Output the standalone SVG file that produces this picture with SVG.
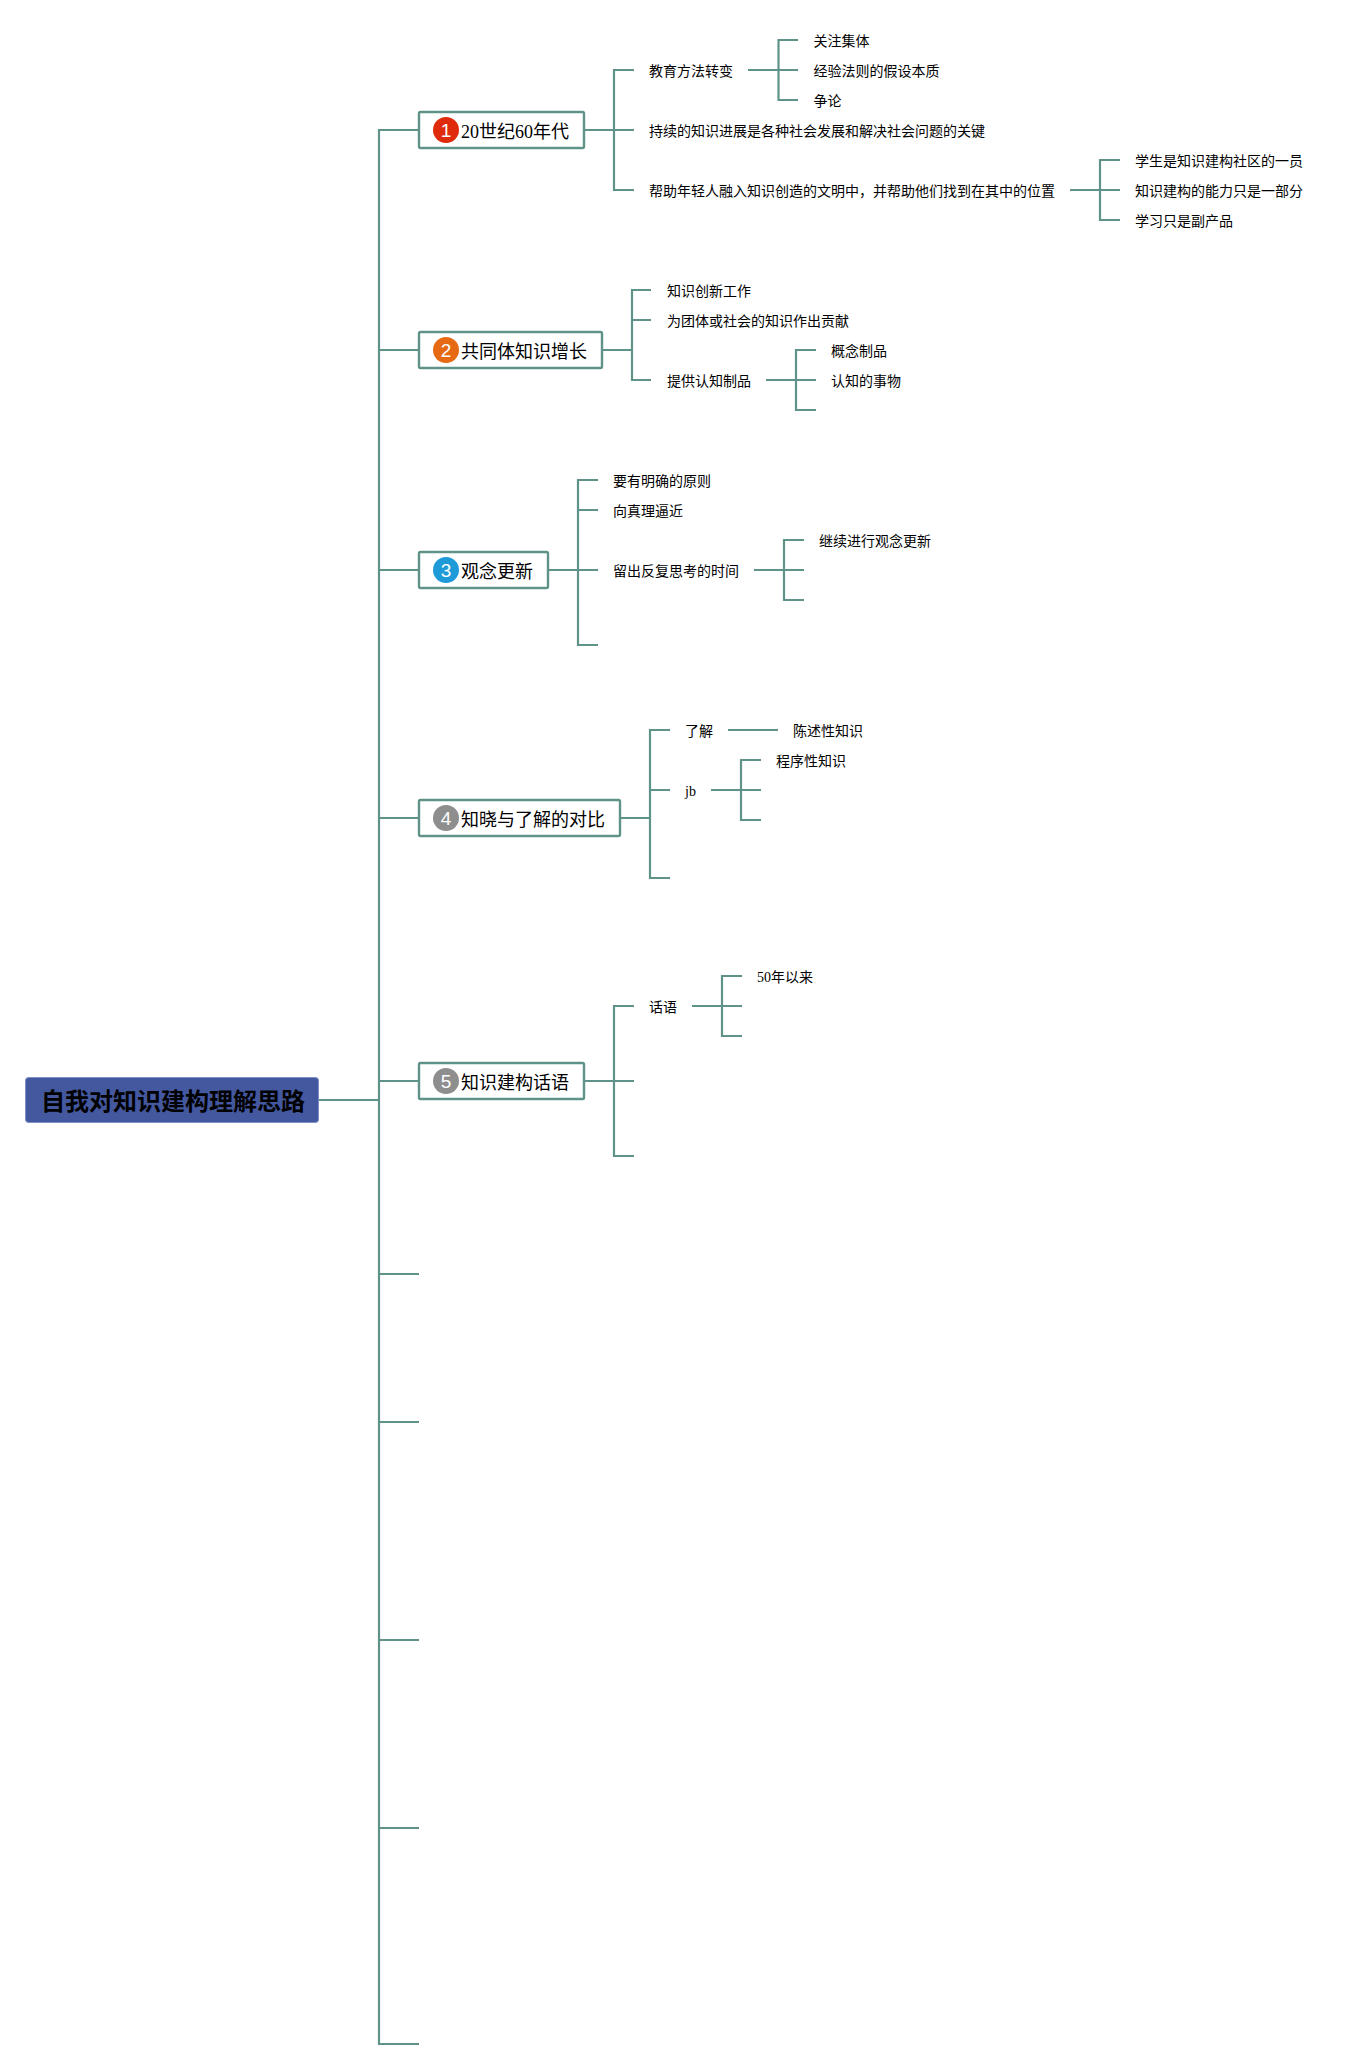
<svg xmlns="http://www.w3.org/2000/svg" width="1363" height="2069" viewBox="0 0 1363 2069">
<style>
.c{fill:none;stroke:#5f938a;stroke-width:2.2}
.b{fill:#fff;stroke:#5f938a;stroke-width:2.4}
text{font-family:"Liberation Serif","Noto Sans CJK SC",sans-serif;fill:#000}
.l{font-size:14px}
.t{font-size:18px}
.n{font-family:"Liberation Sans",sans-serif;font-size:19px;fill:#fff;text-anchor:middle}
.r{font-family:"Liberation Sans","Noto Sans CJK SC",sans-serif;font-size:24px;font-weight:700;fill:#000}
</style>
<rect width="1363" height="2069" fill="#fff"/>
<g id="connectors">
<path class="c" d="M319 1100H379M380 2044H379V130H419M379 350H419M379 570H419M379 818H419M379 1081H419M379 1274H419M379 1422H419M379 1640H419M379 1828H419M379 2044H419"/>
<path class="c" d="M584 130H614M634 70H614V190H634M614 130H634"/>
<path class="c" d="M748 70H778.500M798 40H778.500V100H798M778.500 70H798"/>
<path class="c" d="M1070 190H1100M1120 160H1100V220H1120M1100 190H1120"/>
<path class="c" d="M602 350H632M651 290H632V380H651M632 320H651"/>
<path class="c" d="M766 380H796M816 350H796V410H816M796 380H816"/>
<path class="c" d="M548 570H578M598 480H578V645H598M578 510H598M578 570H598"/>
<path class="c" d="M754 570H784M804 540H784V600H804M784 570H804"/>
<path class="c" d="M620 818H650M670 730H650V878H670M650 790H670"/>
<path class="c" d="M728 730H778"/>
<path class="c" d="M711 790H741M761 760H741V820H761M741 790H761"/>
<path class="c" d="M584 1081H614M634 1006H614V1156H634M614 1081H634"/>
<path class="c" d="M692 1006H722M742 976H722V1036H742M722 1006H742"/>
</g>
<g id="root"><rect x="25.500" y="1077.500" width="293" height="45" rx="3" fill="#44589f" stroke="#7f8fc4"/><text class="r" x="41" y="1110">自我对知识建构理解思路</text></g>
<g id="node1"><rect class="b" x="419" y="112" width="165" height="36" rx="1.500"/><circle cx="446" cy="130" r="13" fill="#df2a0c"/><text class="n" x="446" y="137">1</text><text class="t" x="461" y="138">20世纪60年代</text></g>
<g id="node2"><rect class="b" x="419" y="332" width="183" height="36" rx="1.500"/><circle cx="446" cy="350" r="13" fill="#e66a14"/><text class="n" x="446" y="357">2</text><text class="t" x="461" y="358">共同体知识增长</text></g>
<g id="node3"><rect class="b" x="419" y="552" width="129" height="36" rx="1.500"/><circle cx="446" cy="570" r="13" fill="#1e9ad9"/><text class="n" x="446" y="577">3</text><text class="t" x="461" y="578">观念更新</text></g>
<g id="node4"><rect class="b" x="419" y="800" width="201" height="36" rx="1.500"/><circle cx="446" cy="818" r="13" fill="#8e8e8e"/><text class="n" x="446" y="825">4</text><text class="t" x="461" y="826">知晓与了解的对比</text></g>
<g id="node5"><rect class="b" x="419" y="1063" width="165" height="36" rx="1.500"/><circle cx="446" cy="1081" r="13" fill="#8e8e8e"/><text class="n" x="446" y="1088">5</text><text class="t" x="461" y="1089">知识建构话语</text></g>
<g id="leaves" class="l">
<g id="n1-1"><text x="649" y="76">教育方法转变</text></g>
<g id="n1-1-1"><text x="813.500" y="46">关注集体</text></g>
<g id="n1-1-2"><text x="813.500" y="76">经验法则的假设本质</text></g>
<g id="n1-1-3"><text x="813.500" y="106">争论</text></g>
<g id="n1-2"><text x="649" y="136">持续的知识进展是各种社会发展和解决社会问题的关键</text></g>
<g id="n1-3"><text x="649" y="196">帮助年轻人融入知识创造的文明中，并帮助他们找到在其中的位置</text></g>
<g id="n1-3-1"><text x="1135" y="166">学生是知识建构社区的一员</text></g>
<g id="n1-3-2"><text x="1135" y="196">知识建构的能力只是一部分</text></g>
<g id="n1-3-3"><text x="1135" y="226">学习只是副产品</text></g>
<g id="n2-1"><text x="667" y="296">知识创新工作</text></g>
<g id="n2-2"><text x="667" y="326">为团体或社会的知识作出贡献</text></g>
<g id="n2-3"><text x="667" y="386">提供认知制品</text></g>
<g id="n2-3-1"><text x="831" y="356">概念制品</text></g>
<g id="n2-3-2"><text x="831" y="386">认知的事物</text></g>
<g id="n3-1"><text x="613" y="486">要有明确的原则</text></g>
<g id="n3-2"><text x="613" y="516">向真理逼近</text></g>
<g id="n3-3"><text x="613" y="576">留出反复思考的时间</text></g>
<g id="n3-3-1"><text x="819" y="546">继续进行观念更新</text></g>
<g id="n4-1"><text x="685" y="736">了解</text></g>
<g id="n4-1-1"><text x="793" y="736">陈述性知识</text></g>
<g id="n4-2"><text x="685" y="796">jb</text></g>
<g id="n4-2-1"><text x="776" y="766">程序性知识</text></g>
<g id="n5-1"><text x="649" y="1012">话语</text></g>
<g id="n5-1-1"><text x="757" y="982">50年以来</text></g>
</g>
</svg>
